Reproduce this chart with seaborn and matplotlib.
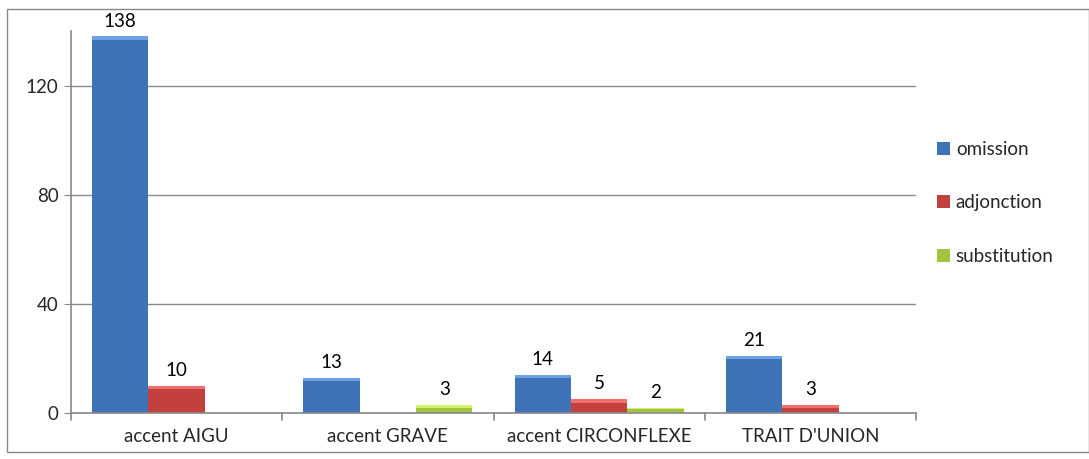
import numpy as np
import pandas as pd
import matplotlib
matplotlib.use("Agg")
import matplotlib.pyplot as plt
import seaborn as sns
from matplotlib.patches import Rectangle

categories = ["accent AIGU", "accent GRAVE", "accent CIRCONFLEXE", "TRAIT D'UNION"]
series = ["omission", "adjonction", "substitution"]
omission = [138, 13, 14, 21]
adjonction = [10, np.nan, 5, 3]
substitution = [np.nan, 3, 2, np.nan]
yticks = [0, 40, 80, 120]

colors = ["#3F73B8", "#C2403D", "#A2C43F"]

rows = []
for s, vals in zip(series, [omission, adjonction, substitution]):
    for c, v in zip(categories, vals):
        rows.append({"cat": c, "serie": s, "val": v})
df = pd.DataFrame(rows)

sns.set_style("white")
plt.rcParams['font.family'] = ['Lato', 'DejaVu Sans']

fig = plt.figure(figsize=(10.89, 4.59), dpi=100)
ax = fig.add_axes([71/1089, 1-413/459, (916-71)/1089, (413-31)/459])

sns.barplot(data=df, x="cat", y="val", hue="serie", palette=colors,
            width=0.8, ax=ax, edgecolor="none", saturation=1, legend=True)

for cont in ax.containers:
    labels = ["" if (np.isnan(v) or v == 0) else f"{int(v)}" for v in cont.datavalues]
    ax.bar_label(cont, labels=labels, padding=5, fontsize=13.5, color="#000000")
    for p in cont.patches:
        h = p.get_height()
        if np.isnan(h) or h == 0:
            continue
        x0, w = p.get_x(), p.get_width()
        fc = p.get_facecolor()
        light = tuple(min(1, c + 0.18) for c in fc[:3])
        th = min(1.2, h * 0.35)
        ax.add_patch(Rectangle((x0, h - th), w, th,
                               facecolor=light, edgecolor="none", zorder=3))

ax.set_ylim(0, 140)
ax.set_xlim(-0.5, 3.5)
ax.set_yticks(yticks)
ax.set_yticklabels([str(t) for t in yticks], fontsize=13.5)
ax.set_xticks(range(len(categories)))
ax.set_xticklabels(categories, fontsize=13.5)
ax.tick_params(axis="x", length=0, pad=11)
ax.tick_params(axis="y", length=5, color="#888888", direction="out", left=True, pad=4)
ax.set_xlabel("")
ax.set_ylabel("")
ax.yaxis.grid(True, color="#8c8c8c", linewidth=1)
ax.set_axisbelow(True)
for s in ["top", "right"]:
    ax.spines[s].set_visible(False)
for s in ["left", "bottom"]:
    ax.spines[s].set_color("#888888")
    ax.spines[s].set_linewidth(1.2)

for b in np.arange(-0.5, 4.0, 1.0):
    ax.plot([b, b], [0, -2.5], color="#888888", lw=1.2, clip_on=False)

leg = ax.legend(loc="center left", bbox_to_anchor=(1.025, 0.55), frameon=False,
                fontsize=13.5, labelspacing=1.95, handlelength=0.7, handleheight=0.7,
                handletextpad=0.3, borderpad=0, borderaxespad=0)

fig.patches.append(Rectangle((7/1089, 1-452/459), (1089-7)/1089, (452-9)/459,
                             transform=fig.transFigure, fill=False,
                             edgecolor="#888888", linewidth=1))

fig.savefig("out.png", dpi=100, facecolor="white")
